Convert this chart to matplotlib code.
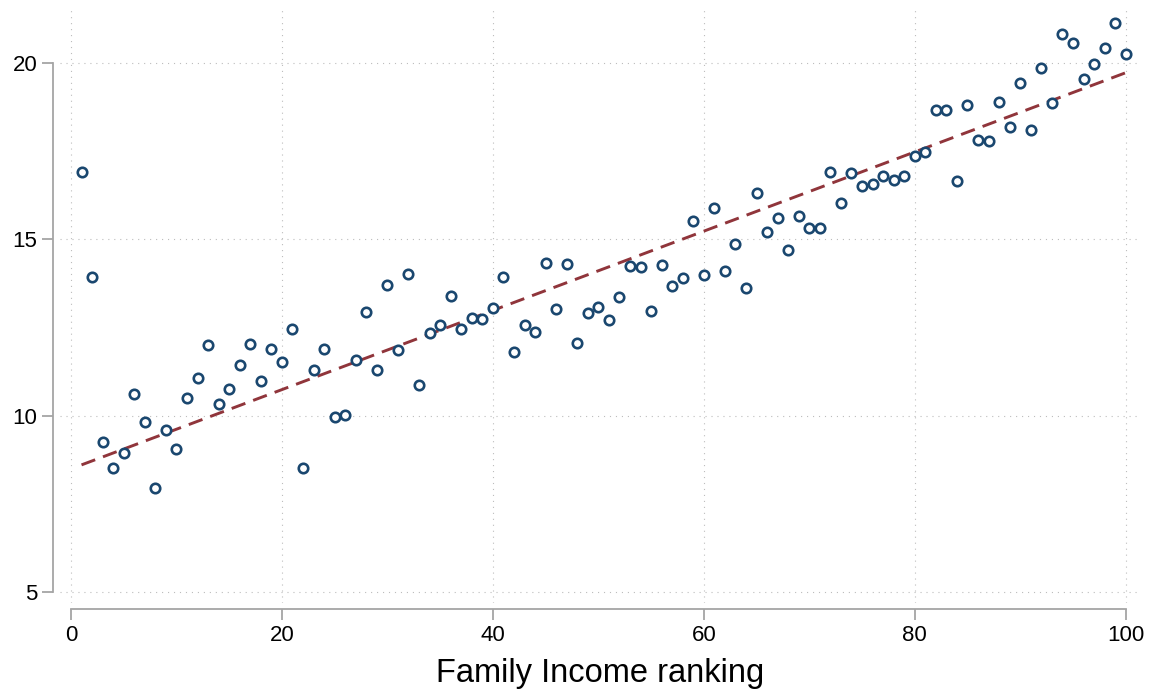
import numpy as np
import matplotlib
matplotlib.use("Agg")
import matplotlib.pyplot as plt

# Family income rank (percentile) and the outcome mean in each rank
rank = list(range(1, 101))
outcome = [
    16.91, 13.92, 9.25, 8.50, 8.93, 10.60, 9.81, 7.93, 9.60, 9.04,
    10.50, 11.06, 12.00, 10.32, 10.75, 11.44, 12.04, 10.99, 11.88, 11.52,
    12.47, 8.50, 11.30, 11.89, 9.95, 10.01, 11.58, 12.93, 11.28, 13.71,
    11.87, 14.02, 10.88, 12.35, 12.58, 13.38, 12.46, 12.77, 12.73, 13.06,
    13.92, 11.80, 12.58, 12.38, 14.34, 13.03, 14.31, 12.06, 12.92, 13.08,
    12.72, 13.37, 14.25, 14.22, 12.96, 14.26, 13.69, 13.89, 15.51, 14.00,
    15.88, 14.10, 14.86, 13.61, 16.32, 15.21, 15.62, 14.70, 15.66, 15.32,
    15.32, 16.92, 16.04, 16.88, 16.52, 16.58, 16.81, 16.69, 16.79, 17.36,
    17.49, 18.66, 18.67, 16.66, 18.80, 17.83, 17.78, 18.90, 18.19, 19.43,
    18.10, 19.85, 18.88, 20.84, 20.58, 19.55, 19.98, 20.44, 21.13, 20.26,
]
# fitted linear trend, evaluated at the lowest and highest rank
fit_rank = [1, 100]
fit_value = [8.60, 19.73]

xticks = [0, 20, 40, 60, 80, 100]
yticks = [5, 10, 15, 20]
xlabel = "Family Income ranking"

plt.rcParams["font.family"] = ["Liberation Sans", "DejaVu Sans"]
plt.rcParams["lines.scale_dashes"] = False

navy = "#1a476f"
maroon = "#90353b"
axis_gray = "#a5a5a5"
grid_gray = "#bdbdbd"

fig = plt.figure(figsize=(11.53, 6.92), dpi=100)
ax = fig.add_axes([60 / 1153, 89 / 692, 1081 / 1153, 593 / 692])

ax.plot(fit_rank, fit_value, color=maroon, lw=2.1,
        linestyle=(0, (10.5, 6.0)), zorder=2)

ax.plot(rank, outcome, linestyle="none", marker="o", markersize=6.8,
        markerfacecolor="white", markeredgecolor=navy,
        markeredgewidth=1.9, zorder=3)

ax.set_xlim(-1.04, 101.45)
ax.set_ylim(4.68, 21.51)
ax.set_xticks(xticks)
ax.set_yticks(yticks)

ax.grid(True, color=grid_gray, lw=0.8, linestyle=(0, (0.8, 3.5)))
ax.set_axisbelow(True)

for side in ("top", "right"):
    ax.spines[side].set_visible(False)
ax.spines["left"].set_position(("outward", 5.0))
ax.spines["bottom"].set_position(("outward", 4.3))
ax.spines["left"].set_bounds(5, 20)
ax.spines["bottom"].set_bounds(0, 100)
for side in ("left", "bottom"):
    ax.spines[side].set_color(axis_gray)
    ax.spines[side].set_linewidth(1.3)

ax.tick_params(axis="both", colors=axis_gray, length=7.9, width=1.3,
               labelcolor="black", labelsize=16, pad=3.5)

ax.set_xlabel(xlabel, fontsize=23.5, labelpad=9)

fig.savefig("out.png", dpi=100, facecolor="white")
